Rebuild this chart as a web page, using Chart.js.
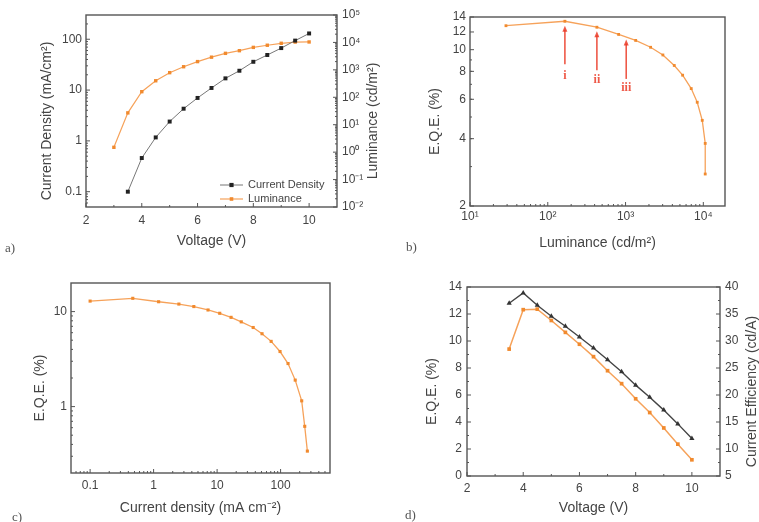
<!DOCTYPE html>
<html>
<head>
<meta charset="utf-8">
<script src="https://cdn.jsdelivr.net/npm/chart.js@4.4.0/dist/chart.umd.min.js"></script>
<style>
  body { margin: 0; background: #fff; width: 759px; height: 522px; position: relative; overflow: hidden; }
  canvas { position: absolute; }
  .lbl { position: absolute; font: 13px "Liberation Serif", serif; color: #555; }
</style>
</head>
<body>
<canvas id="ca" width="380" height="260" style="left:0;top:0"></canvas>
<canvas id="cb" width="379" height="260" style="left:380px;top:0"></canvas>
<canvas id="cc" width="380" height="262" style="left:0;top:260px"></canvas>
<canvas id="cd" width="379" height="262" style="left:380px;top:260px"></canvas>
<div class="lbl" style="left:5px;top:240px">a)</div>
<div class="lbl" style="left:406px;top:239px">b)</div>
<div class="lbl" style="left:12px;top:509px">c)</div>
<div class="lbl" style="left:405px;top:507px">d)</div>
<script>
// a) current density and luminance vs voltage
const voltageJ = [3.5, 4, 4.5, 5, 5.5, 6, 6.5, 7, 7.5, 8, 8.5, 9, 9.5, 10];
const currentDensity = [0.1, 0.46, 1.17, 2.4, 4.3, 7.0, 11, 17, 24, 36, 49, 67, 94, 130];
const voltageL = [3, 3.5, 4, 4.5, 5, 5.5, 6, 6.5, 7, 7.5, 8, 8.5, 9, 9.5, 10];
const luminance = [1.5, 27, 160, 400, 790, 1300, 2000, 2900, 4000, 5000, 6600, 7900, 9300, 10300, 10400];

// b) EQE vs luminance
const luminanceB = [29, 166, 428, 815, 1350, 2100, 3020, 4230, 5420, 6990, 8350, 9690, 10580, 10580];
const eqeB = [12.8, 13.4, 12.6, 11.7, 11.0, 10.25, 9.47, 8.5, 7.69, 6.7, 5.82, 4.83, 3.81, 2.78];
const arrowLum = [166, 428, 1020];
const arrowFrom = [8.6, 8.1, 7.4];
const arrowTo = [12.8, 12.1, 11.1];
const arrowLabelY = [7.65, 7.35, 6.75];
const arrowLabels = ["i", "ii", "iii"];

// c) EQE vs current density
const currentDensityC = [0.1, 0.47, 1.2, 2.5, 4.3, 7.2, 11, 16.6, 24, 37, 51, 71, 98, 131, 170, 215, 240, 264];
const eqeC = [12.9, 13.8, 12.7, 12.0, 11.3, 10.4, 9.6, 8.7, 7.8, 6.8, 5.85, 4.86, 3.8, 2.84, 1.9, 1.15, 0.62, 0.34];

// d) EQE and current efficiency vs voltage
const voltageD = [3.5, 4, 4.5, 5, 5.5, 6, 6.5, 7, 7.5, 8, 8.5, 9, 9.5, 10];
const eqeD = [12.8, 13.56, 12.65, 11.83, 11.09, 10.3, 9.48, 8.61, 7.72, 6.73, 5.84, 4.88, 3.86, 2.77];
const currentEff = [28.5, 35.8, 35.9, 33.8, 31.6, 29.4, 27.1, 24.5, 22.1, 19.3, 16.75, 13.9, 10.9, 8.0];

// tick labels
const voltTicks = [2, 4, 6, 8, 10];
const jTicksA = [0.1, 1, 10, 100];
const lumTicksA = [1e-2, 1e-1, 1, 10, 100, 1e3, 1e4, 1e5];
const lumTicksB = [10, 100, 1000, 10000];
const eqeTicksB = [2, 4, 6, 8, 10, 12, 14];
const jTicksC = [0.1, 1, 10, 100];
const eqeTicksC = [1, 10];
const eqeTicksD = [0, 2, 4, 6, 8, 10, 12, 14];
const ceTicksD = [5, 10, 15, 20, 25, 30, 35, 40];

const ORANGE = "#f6a25a";
const ORANGE_PT = "#f18a2e";
const TXT = "#444";
const FONT = '"Liberation Sans", Arial, sans-serif';

Chart.defaults.font.family = FONT;
Chart.defaults.color = TXT;

const supMap = { "0": "⁰", "1": "¹", "2": "²", "3": "³", "4": "⁴", "5": "⁵", "6": "⁶", "7": "⁷", "8": "⁸", "9": "⁹", "-": "⁻" };
const pow10 = v => "10" + String(Math.round(Math.log10(v))).split("").map(c => supMap[c]).join("");
const plain = v => String(v);

function axis(type, pos, min, max, ticks, fmt, size, title, titlePad, tickPad) {
  const horiz = pos === "bottom";
  return {
    type, position: pos, min, max,
    grid: { display: false, drawTicks: false },
    border: { display: false },
    afterBuildTicks: s => { s.ticks = ticks.map(v => ({ value: v })); },
    afterFit: s => { if (horiz) s.height = size; else s.width = size; },
    ticks: { callback: fmt, autoSkip: false, maxRotation: 0, padding: tickPad, font: { size: 12 }, color: TXT },
    title: title ? {
      display: true, text: title, color: TXT, font: { size: 14 },
      padding: { top: 0, bottom: titlePad }
    } : { display: false }
  };
}

function minorValues(s) {
  const vals = s.ticks.map(t => t.value);
  const out = [];
  if (s.type === "logarithmic") {
    for (let d = Math.floor(Math.log10(s.min)); d <= Math.ceil(Math.log10(s.max)); d++) {
      for (let m = 2; m < 10; m++) {
        const v = m * Math.pow(10, d);
        if (v > s.min && v < s.max) out.push(v);
      }
    }
  } else if (vals.length > 1) {
    const step = vals[1] - vals[0];
    for (let v = vals[0] - step / 2; v < s.max; v += step) if (v > s.min) out.push(v);
  }
  return out;
}

// plot frame with inward tick marks
const frame = {
  id: "frame",
  afterDraw(chart) {
    const { ctx, chartArea: a } = chart;
    ctx.save();
    ctx.strokeStyle = "#555";
    ctx.lineWidth = 1.4;
    ctx.strokeRect(a.left, a.top, a.right - a.left, a.bottom - a.top);
    ctx.lineWidth = 1;
    Object.values(chart.scales).forEach(s => {
      const draw = (v, len) => {
        const p = s.getPixelForValue(v);
        ctx.beginPath();
        if (s.position === "bottom") { ctx.moveTo(p, a.bottom); ctx.lineTo(p, a.bottom - len); }
        else if (s.position === "left") { ctx.moveTo(a.left, p); ctx.lineTo(a.left + len, p); }
        else { ctx.moveTo(a.right, p); ctx.lineTo(a.right - len, p); }
        ctx.stroke();
      };
      s.ticks.forEach(t => draw(t.value, 4));
      minorValues(s).forEach(v => draw(v, 2));
    });
    ctx.restore();
  }
};

// vertical axis titles, read bottom to top
const sideTitle = {
  id: "sideTitle",
  afterDraw(chart, args, o) {
    if (!o.list) return;
    const { ctx, chartArea: a } = chart;
    o.list.forEach(t => {
      ctx.save();
      ctx.translate(t.x, (a.top + a.bottom) / 2 + 10);
      ctx.rotate(-Math.PI / 2);
      ctx.font = "14px " + FONT;
      ctx.fillStyle = TXT;
      ctx.textAlign = "center";
      ctx.textBaseline = "middle";
      ctx.fillText(t.text, 0, 0);
      ctx.restore();
    });
  }
};

function marker(ctx, style, x, y, r, color) {
  ctx.fillStyle = color;
  ctx.beginPath();
  if (style === "triangle") {
    ctx.moveTo(x, y - r); ctx.lineTo(x + r, y + r * 0.7); ctx.lineTo(x - r, y + r * 0.7); ctx.closePath();
  } else {
    const h = r * 0.75;
    ctx.rect(x - h, y - h, 2 * h, 2 * h);
  }
  ctx.fill();
}

const boxLegend = {
  id: "boxLegend",
  afterDraw(chart, args, o) {
    if (o.x === undefined) return;
    const ctx = chart.ctx;
    ctx.save();
    chart.data.datasets.forEach((ds, i) => {
      const y = o.y + i * o.row;
      ctx.strokeStyle = ds.borderColor;
      ctx.lineWidth = ds.borderWidth;
      ctx.beginPath(); ctx.moveTo(o.x, y); ctx.lineTo(o.x + o.len, y); ctx.stroke();
      marker(ctx, ds.pointStyle, o.x + o.len / 2, y, ds.pointRadius, ds.pointBackgroundColor);
      ctx.font = o.size + "px " + FONT;
      ctx.fillStyle = TXT;
      ctx.textBaseline = "middle";
      ctx.fillText(ds.label, o.x + o.len + 5, y);
    });
    ctx.restore();
  }
};

// red arrows i, ii, iii in panel b
const arrows = {
  id: "arrows",
  afterDatasetsDraw(chart, args, o) {
    if (!o.on) return;
    const { ctx } = chart;
    const xs = chart.scales.x, ys = chart.scales.y;
    ctx.save();
    ctx.strokeStyle = "rgba(235,60,40,0.85)";
    ctx.fillStyle = "rgba(235,60,40,0.85)";
    ctx.lineWidth = 1.6;
    arrowLum.forEach((l, i) => {
      const px = xs.getPixelForValue(l);
      const y0 = ys.getPixelForValue(arrowFrom[i]);
      const y1 = ys.getPixelForValue(arrowTo[i]);
      ctx.beginPath(); ctx.moveTo(px, y0); ctx.lineTo(px, y1 + 4); ctx.stroke();
      ctx.beginPath(); ctx.moveTo(px, y1); ctx.lineTo(px - 2.5, y1 + 6); ctx.lineTo(px + 2.5, y1 + 6); ctx.closePath(); ctx.fill();
      ctx.font = 'bold 12px "Liberation Serif", serif';
      ctx.textAlign = "center";
      ctx.textBaseline = "middle";
      ctx.fillText(arrowLabels[i], px, ys.getPixelForValue(arrowLabelY[i]));
    });
    ctx.restore();
  }
};

const common = { responsive: false, animation: false, devicePixelRatio: 1 };
const plug = [frame, sideTitle, boxLegend, arrows];
const pts = (xs, ys) => xs.map((v, i) => ({ x: v, y: ys[i] }));
const noTip = { legend: { display: false }, tooltip: { enabled: false } };

// a)
new Chart(document.getElementById("ca"), {
  type: "line",
  data: {
    datasets: [
      { label: "Current Density", data: pts(voltageJ, currentDensity), yAxisID: "y",
        borderColor: "#777", borderWidth: 1, pointStyle: "rect", pointRadius: 2.8,
        pointBackgroundColor: "#222", pointBorderWidth: 0 },
      { label: "Luminance", data: pts(voltageL, luminance), yAxisID: "y2",
        borderColor: ORANGE, borderWidth: 1.2, pointStyle: "rect", pointRadius: 2.4,
        pointBackgroundColor: ORANGE_PT, pointBorderWidth: 0 }
    ]
  },
  options: {
    ...common,
    layout: { padding: { top: 15, left: 0, right: 0, bottom: 0 } },
    scales: {
      x: axis("linear", "bottom", 2, 11, voltTicks, plain, 53, "Voltage (V)", 10, 6),
      y: axis("logarithmic", "left", 0.05, 300, jTicksA, plain, 86, null, 0, 4),
      y2: axis("logarithmic", "right", 0.01, 1e5, lumTicksA, pow10, 43, null, 0, 5)
    },
    plugins: { ...noTip,
      sideTitle: { list: [{ text: "Current Density (mA/cm²)", x: 47 }, { text: "Luminance (cd/m²)", x: 373 }] },
      boxLegend: { x: 220, y: 185, len: 23, row: 14, size: 11 } }
  },
  plugins: plug
});

// b)
new Chart(document.getElementById("cb"), {
  type: "line",
  data: {
    datasets: [
      { label: "EQE", data: pts(luminanceB, eqeB), borderColor: ORANGE, borderWidth: 1.3,
        pointStyle: "rect", pointRadius: 2, pointBackgroundColor: ORANGE_PT, pointBorderWidth: 0 }
    ]
  },
  options: {
    ...common,
    layout: { padding: { top: 17, left: 0, right: 34, bottom: 0 } },
    scales: {
      x: axis("logarithmic", "bottom", 10, 19000, lumTicksB, pow10, 54, "Luminance (cd/m²)", 8, 3),
      y: axis("logarithmic", "left", 2, 14, eqeTicksB, plain, 90, null, 0, 4)
    },
    plugins: { ...noTip, arrows: { on: true },
      sideTitle: { list: [{ text: "E.Q.E. (%)", x: 55 }] } }
  },
  plugins: plug
});

// c)
new Chart(document.getElementById("cc"), {
  type: "line",
  data: {
    datasets: [
      { label: "EQE", data: pts(currentDensityC, eqeC), borderColor: ORANGE, borderWidth: 1.3,
        pointStyle: "rect", pointRadius: 2.2, pointBackgroundColor: ORANGE_PT, pointBorderWidth: 0 }
    ]
  },
  options: {
    ...common,
    layout: { padding: { top: 23, left: 0, right: 50, bottom: 0 } },
    scales: {
      x: axis("logarithmic", "bottom", 0.05, 600, jTicksC, plain, 49, "Current density (mA cm⁻²)", 5, 5),
      y: axis("logarithmic", "left", 0.2, 20, eqeTicksC, plain, 71, null, 0, 4)
    },
    plugins: { ...noTip, sideTitle: { list: [{ text: "E.Q.E. (%)", x: 40 }] } }
  },
  plugins: plug
});

// d)
new Chart(document.getElementById("cd"), {
  type: "line",
  data: {
    datasets: [
      { label: "E.Q.E.", data: pts(voltageD, eqeD), yAxisID: "y",
        borderColor: "#444", borderWidth: 1.4, pointStyle: "triangle", pointRadius: 3,
        pointBackgroundColor: "#333", pointBorderWidth: 0 },
      { label: "Current Efficiency", data: pts(voltageD, currentEff), yAxisID: "y2",
        borderColor: ORANGE, borderWidth: 1.5, pointStyle: "rect", pointRadius: 2.6,
        pointBackgroundColor: ORANGE_PT, pointBorderWidth: 0 }
    ]
  },
  options: {
    ...common,
    layout: { padding: { top: 27, left: 0, right: 0, bottom: 0 } },
    scales: {
      x: axis("linear", "bottom", 2, 11, voltTicks, plain, 46, "Voltage (V)", 5, 5),
      y: axis("linear", "left", 0, 14, eqeTicksD, plain, 87, null, 0, 5),
      y2: axis("linear", "right", 5, 40, ceTicksD, plain, 39, null, 0, 5)
    },
    plugins: { ...noTip,
      sideTitle: { list: [{ text: "E.Q.E. (%)", x: 52 }, { text: "Current Efficiency (cd/A)", x: 372 }] },
      boxLegend: { x: 588, y: 196, len: 19, row: 10, size: 9 } }
  },
  plugins: plug
});
</script>
</body>
</html>
